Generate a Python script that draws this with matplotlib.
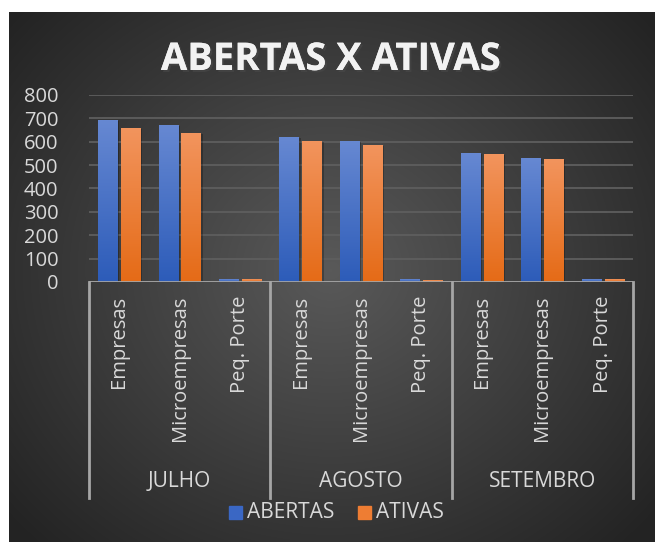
import numpy as np
import matplotlib
matplotlib.use("Agg")
import matplotlib.pyplot as plt
import matplotlib.patheffects as pe

# data
meses = ["JULHO", "AGOSTO", "SETEMBRO"]
tipos = ["Empresas", "Microempresas", "Peq. Porte"]
abertas = [692, 671, 9, 620, 603, 9, 551, 530, 9]
ativas = [657, 637, 9, 603, 585, 5, 547, 526, 9]
series = ["ABERTAS", "ATIVAS"]

plt.rcParams['font.family'] = ['Open Sans', 'DejaVu Sans']
txt = '#d9d9d9'

fig = plt.figure(figsize=(6.55, 5.42), dpi=100)

# radial dark background
bg = fig.add_axes([0, 0, 1, 1], zorder=-10)
W, H = 655, 542
yy, xx = np.mgrid[0:H, 0:W]
r = np.sqrt(((xx - 330) / 420.0) ** 2 + ((yy - 270) / 380.0) ** 2)
g = 0.35 - 0.21 * np.clip(r, 0, 1)
img = np.dstack([g, g, g])
img[:12, :, :] = 1
img[:, :9, :] = 1
bg.imshow(img, extent=(0, W, H, 0), aspect='auto', interpolation='bilinear')
bg.set_xlim(0, W)
bg.set_ylim(H, 0)
bg.axis('off')

ax = fig.add_axes([89 / W, 1 - 282 / H, (633 - 89) / W, (282 - 95) / H])
ax.patch.set_alpha(0)

n = len(abertas)
x = np.arange(n)
bw = 0.32
off = 0.19


def grad_bar(xc, h, top, bot):
    cm = matplotlib.colors.LinearSegmentedColormap.from_list('g', [bot, top])
    grad = np.linspace(0, 1, 64).reshape(-1, 1)
    # shadow
    ax.bar(xc + 0.03, h, bw, bottom=-4, color='black', alpha=0.25, zorder=2, lw=0)
    ax.imshow(grad, extent=(xc - bw / 2, xc + bw / 2, 0, h), origin='lower',
              cmap=cm, aspect='auto', zorder=3, vmin=0, vmax=1)


for i in range(n):
    grad_bar(x[i] - off, abertas[i], '#6688d2', '#2d5cb9')
    grad_bar(x[i] + off, ativas[i], '#f2945d', '#e56b17')

ax.set_xlim(-0.5, n - 0.5)
ax.set_ylim(0, 800)
ax.set_yticks(range(0, 801, 100))
ax.yaxis.grid(True, color='#5e5e5e', lw=1.3)
ax.set_axisbelow(True)
for s in ax.spines.values():
    s.set_visible(False)
ax.tick_params(axis='y', length=0, colors=txt, labelsize=14.5, pad=22)
ax.set_xticks([])

# category axis box
lc = '#a6a6a6'
ax.axhline(0, color=lc, lw=2, zorder=4)
axis_y1 = (282 - 498) / (282 - 95) * 800
for k in range(len(meses) + 1):
    ax.plot([k * 3 - 0.5, k * 3 - 0.5], [0, axis_y1], color=lc, lw=2,
            clip_on=False, zorder=4)
for i in range(n):
    ax.text(x[i], -58, tipos[i % 3], rotation=90, ha='center', va='top',
            color=txt, fontsize=14.5)
for k, m in enumerate(meses):
    ax.text(k * 3 + 1, (282 - 482) / (282 - 95) * 800, m, ha='center',
            va='center', color=txt, fontsize=15)

# legend
fig.patches.append(plt.Rectangle((229 / W, 1 - 519 / H), 13 / W, 13 / H,
                                 transform=fig.transFigure, color='#3a67c4'))
fig.patches.append(plt.Rectangle((358 / W, 1 - 519 / H), 13 / W, 13 / H,
                                 transform=fig.transFigure, color='#ee7d33'))
fig.text(247 / W, 1 - 512 / H, series[0], color=txt, fontsize=15, va='center')
fig.text(376 / W, 1 - 512 / H, series[1], color=txt, fontsize=15, va='center')

fig.text(331 / W, 1 - 60 / H, "ABERTAS X ATIVAS", ha='center', va='center',
         color='#f2f2f2', fontsize=27.5, fontweight='bold',
         path_effects=[pe.withSimplePatchShadow(offset=(1.5, -1.5), alpha=0.6),
                       pe.Normal()])

fig.savefig("out.png", dpi=100)
